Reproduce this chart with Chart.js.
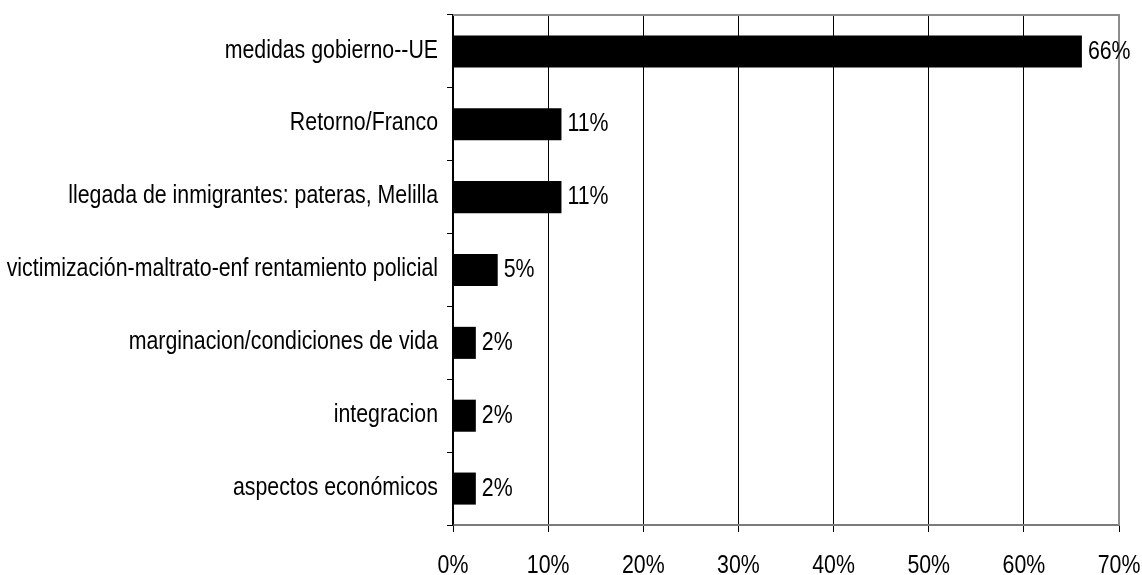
<!DOCTYPE html>
<html>
<head>
<meta charset="utf-8">
<script src="https://cdn.jsdelivr.net/npm/chart.js@4/dist/chart.umd.min.js"></script>
<style>
  html, body { margin: 0; padding: 0; background: #fff; }
  #wrap { width: 1142px; height: 575px; }
</style>
</head>
<body>
<div id="wrap"><canvas id="temasChart" width="1142" height="575"></canvas></div>
<script>
// categories and values (percent)
const categorias = [
    "medidas gobierno--UE",
    "Retorno/Franco",
    "llegada de inmigrantes: pateras, Melilla",
    "victimización-maltrato-enf rentamiento policial",
    "marginacion/condiciones de vida",
    "integracion",
    "aspectos económicos"
];
const porcentajes = [66.1, 11.4, 11.4, 4.7, 2.4, 2.4, 2.4];
const ticksX = [0, 10, 20, 30, 40, 50, 60, 70];

const FONT = "'Liberation Sans', Arial, sans-serif";
const SQUEEZE = 0.82; // the original text is a narrow face, so squeeze it horizontally

// writes text squeezed in x, anchored at (x, y)
function texto(ctx, str, x, y, align) {
    ctx.save();
    ctx.translate(x, y);
    ctx.scale(SQUEEZE, 1);
    ctx.textAlign = align;
    ctx.fillText(str, 0, 0);
    ctx.restore();
}

// all the text: category names, x tick labels, value labels
const etiquetas = {
    id: 'etiquetas',
    afterDatasetsDraw(chart) {
        const ctx = chart.ctx;
        const meta = chart.getDatasetMeta(0);
        const xs = chart.scales.x;
        const a = chart.chartArea;
        ctx.save();
        ctx.fillStyle = '#000';
        ctx.font = '26px ' + FONT;
        ctx.textBaseline = 'middle';
        meta.data.forEach((bar, i) => {
            texto(ctx, Math.round(porcentajes[i]) + '%', bar.x + 6, bar.y, 'left');
            texto(ctx, categorias[i], a.left - 15, bar.y - 1, 'right');
        });
        ctx.textBaseline = 'alphabetic';
        ticksX.forEach(v => {
            texto(ctx, v + '%', xs.getPixelForValue(v), 573, 'center');
        });
        ctx.restore();
    }
};

// gray frame on top and right of the plot
const marco = {
    id: 'marco',
    beforeDatasetsDraw(chart) {
        const a = chart.chartArea;
        const ctx = chart.ctx;
        ctx.save();
        ctx.strokeStyle = '#8c8c8c';
        ctx.lineWidth = 2;
        ctx.beginPath();
        ctx.moveTo(a.left, a.top);
        ctx.lineTo(a.right, a.top);
        ctx.lineTo(a.right, a.bottom);
        ctx.stroke();
        ctx.restore();
    }
};

const ctx = document.getElementById('temasChart').getContext('2d');
const myChart = new Chart(ctx, {
    type: 'bar',
    data: {
        labels: categorias,
        datasets: [{
            data: porcentajes,
            backgroundColor: '#000',
            borderWidth: 0,
            barPercentage: 0.44,
            categoryPercentage: 1
        }]
    },
    options: {
        indexAxis: 'y',
        responsive: false,
        animation: false,
        layout: { padding: { left: 0, right: 23, top: 15, bottom: 0 } },
        plugins: {
            legend: { display: false },
            tooltip: { enabled: false }
        },
        scales: {
            x: {
                min: 0,
                max: 70,
                afterBuildTicks: (axis) => { axis.ticks = ticksX.map(v => ({ value: v })); },
                afterFit: (axis) => { axis.height = 50; },
                border: { color: '#7a7a7a', width: 2 },
                grid: { color: '#000', lineWidth: 1, tickLength: 7, tickColor: '#000' },
                ticks: { display: false }
            },
            y: {
                offset: true,
                afterFit: (axis) => { axis.width = 453; },
                border: { color: '#000', width: 1.5 },
                grid: { offset: true, drawOnChartArea: false, tickLength: 6, tickColor: '#000' },
                ticks: { display: false }
            }
        }
    },
    plugins: [marco, etiquetas]
});
</script>
</body>
</html>
